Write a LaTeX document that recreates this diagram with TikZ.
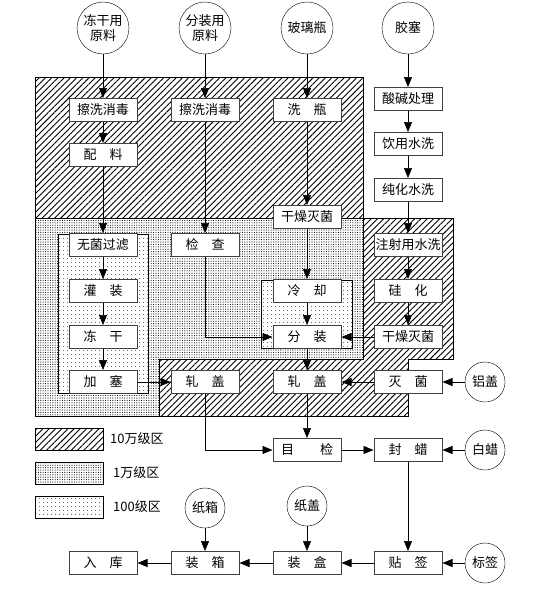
\documentclass[tikz,border=0pt]{standalone}
\usepackage{fontspec}
\newfontfamily\cjk{Noto Sans CJK SC}
\usetikzlibrary{arrows.meta}
\usetikzlibrary{patterns.meta}
\colorlet{rim}{black!75}
\tikzset{
  % node options
  proc/.style={rectangle,draw=rim,line width=1pt,fill=white,
    minimum width=68pt,minimum height=23pt,inner sep=0pt},
  stock/.style={circle,draw,fill=white,inner sep=0pt,minimum size=40pt},
  bigstock/.style={stock,minimum size=52pt,align=center},
  tag/.style={anchor=west,inner sep=0pt},
  % area options
  zone/.style={draw,line width=0.7pt},
  zone100k/.style={zone,pattern={Lines[angle=45,distance=4.4pt,line width=0.9pt]}},
  zone10k/.style={zone,pattern={Dots[distance=2.4pt,radius=0.55pt]}},
  zone100/.style={zone,fill=white,postaction={pattern={Dots[distance=4pt,radius=0.55pt]}}},
  key/.style={minimum width=68pt,minimum height=22pt,inner sep=0pt},
  % path options
  flow/.style={-{Triangle[length=10pt,width=8pt]},line width=0.7pt},
}
\newcommand{\spc}{\hspace{1em}}

\begin{document}
\begin{tikzpicture}[x=1pt,y=-1pt,
    every node/.style={font=\cjk\fontsize{13}{15}\selectfont},
  ]
  \useasboundingbox (0,0) rectangle (540,590);
  % clean areas
  \path[zone100k] (35,77) rectangle (363,218);
  \path[zone10k] (35,218) -- (363,218) -- (363,359) -- (159,359)
    -- (159,416) -- (35,416) -- cycle;
  \path[zone100k] (363,218) -- (453,218) -- (453,359) -- (408,359)
    -- (408,416) -- (159,416) -- (159,359) -- (363,359) -- cycle;
  \path[zone100] (58,234) rectangle (148,393);
  \path[zone100] (261,280) rectangle (352,348);

  % raw materials
  \node[bigstock] (freezeMat) at (103,28) {冻干用\\原料};
  \node[bigstock] (splitMat) at (205,28) {分装用\\原料};
  \node[bigstock] (bottle) at (307,28) {玻璃瓶};
  \node[bigstock] (stopper) at (408,28) {胶塞};

  % freeze-drying line
  \node[proc] (wash one) at (103,110) {擦洗消毒};
  \node[proc] (mix) at (103,155) {配\spc 料};
  \node[proc] (filter) at (103,245) {无菌过滤};
  \node[proc] (fill) at (103,291) {灌\spc 装};
  \node[proc] (freeze) at (103,337) {冻\spc 干};
  \node[proc] (plug) at (103,382) {加\spc 塞};
  \node[proc] (cap one) at (205,382) {轧\spc 盖};

  % powder line
  \node[proc] (wash two) at (205,110) {擦洗消毒};
  \node[proc] (check) at (205,245) {检\spc 查};

  % bottles
  \node[proc] (wash bottle) at (307,110) {洗\spc 瓶};
  \node[proc] (dry one) at (307,217) {干燥灭菌};
  \node[proc] (cool) at (307,291) {冷\spc 却};
  \node[proc] (split) at (307,337) {分\spc 装};
  \node[proc] (cap two) at (307,382) {轧\spc 盖};

  % stoppers
  \node[proc] (acid) at (408,99) {酸碱处理};
  \node[proc] (tap wash) at (408,144) {饮用水洗};
  \node[proc] (pure wash) at (408,190) {纯化水洗};
  \node[proc] (wfi wash) at (408,245) {注射用水洗};
  \node[proc] (silicon) at (408,291) {硅\spc 化};
  \node[proc] (dry two) at (408,337) {干燥灭菌};
  \node[proc] (steril) at (408,382) {灭\spc 菌};
  \node[stock] (alu cap) at (485,382) {铝盖};

  % finishing
  \node[proc] (look) at (307,450) {目\hspace{2em}检};
  \node[proc] (wax) at (408,450) {封\spc 蜡};
  \node[stock] (white wax) at (485,450) {白蜡};
  \node[proc] (label) at (408,563) {贴\spc 签};
  \node[stock] (label src) at (485,563) {标签};
  \node[proc] (case) at (307,563) {装\spc 盒};
  \node[stock] (paper cap) at (307,506) {纸盖};
  \node[proc] (carton) at (205,563) {装\spc 箱};
  \node[stock] (paper box) at (205,508) {纸箱};
  \node[proc] (store) at (103,563) {入\spc 库};

  % legend
  \node[zone100k,key] (key a) at (69,439) {};
  \node[zone10k,key] (key b) at (69,473) {};
  \node[zone100,key] (key c) at (69,507) {};
  \node[tag] (key a text) at (110,439) {10万级区};
  \node[tag] (key b text) at (113,473) {1万级区};
  \node[tag] (key c text) at (113,507) {100级区};

  % flows
  \draw[flow] (freezeMat) -- (wash one);
  \draw[flow] (wash one) -- (mix);
  \draw[flow] (mix) -- (filter);
  \draw[flow] (filter) -- (fill);
  \draw[flow] (fill) -- (freeze);
  \draw[flow] (freeze) -- (plug);
  \draw[flow] (plug) -- (cap one);
  \draw[flow] (splitMat) -- (wash two);
  \draw[flow] (wash two) -- (check);
  \draw[flow] (check) |- (split);
  \draw[flow] (bottle) -- (wash bottle);
  \draw[flow] (wash bottle) -- (dry one);
  \draw[flow] (dry one) -- (cool);
  \draw[flow] (cool) -- (split);
  \draw[flow] (split) -- (cap two);
  \draw[flow] (stopper) -- (acid);
  \draw[flow] (acid) -- (tap wash);
  \draw[flow] (tap wash) -- (pure wash);
  \draw[flow] (pure wash) -- (wfi wash);
  \draw[flow] (wfi wash) -- (silicon);
  \draw[flow] (silicon) -- (dry two);
  \draw[flow] (dry two) -- (split);
  \draw[flow] (steril) -- (cap two);
  \draw[flow] (alu cap) -- (steril);
  \draw[flow] (cap one) |- (look);
  \draw[flow] (cap two) -- (look);
  \draw[flow] (look) -- (wax);
  \draw[flow] (white wax) -- (wax);
  \draw[flow] (wax) -- (label);
  \draw[flow] (label src) -- (label);
  \draw[flow] (label) -- (case);
  \draw[flow] (paper cap) -- (case);
  \draw[flow] (case) -- (carton);
  \draw[flow] (paper box) -- (carton);
  \draw[flow] (carton) -- (store);
\end{tikzpicture}
\end{document}
